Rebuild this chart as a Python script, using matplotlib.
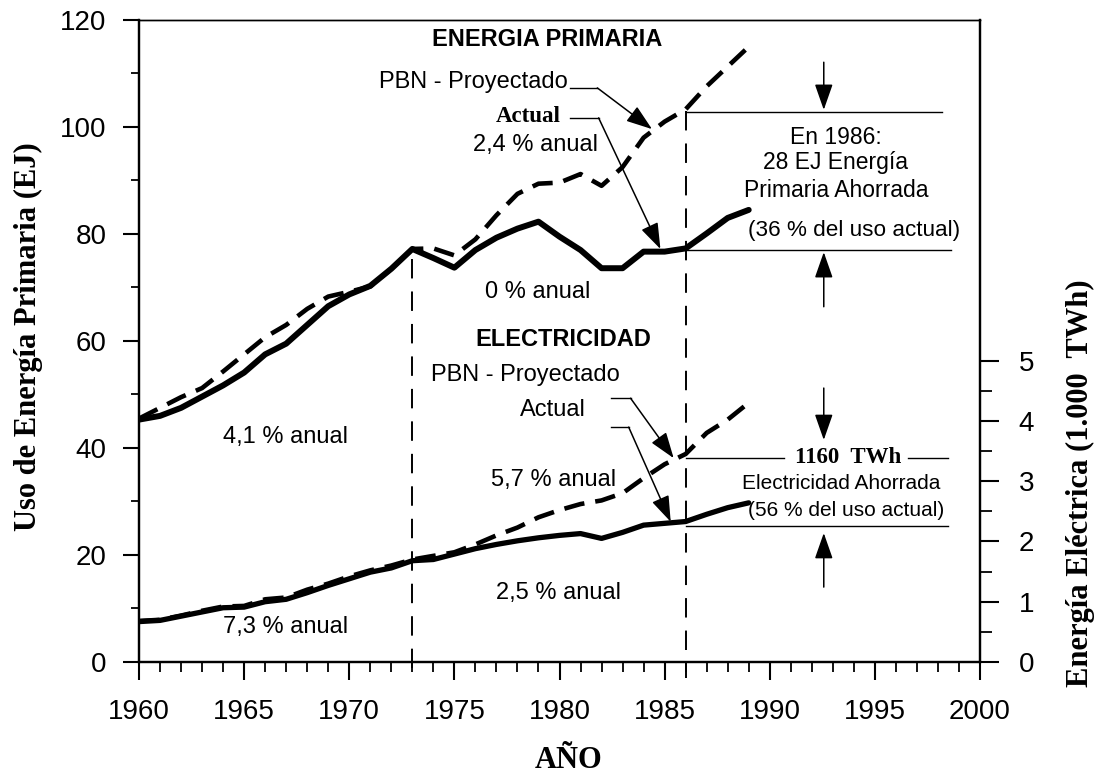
import matplotlib.pyplot as plt
from matplotlib.ticker import MultipleLocator

# datos
years = list(range(1960, 1990))

# energia primaria (EJ)
primaria_actual = [45.3, 46.0, 47.5, 49.6, 51.7, 54.1, 57.5, 59.5, 63.0, 66.5,
                   68.7, 70.3, 73.5, 77.2, 75.5, 73.7, 77.0, 79.3, 81.0, 82.3,
                   79.5, 77.0, 73.6, 73.6, 76.7, 76.7, 77.3, 80.1, 83.0, 84.5]
primaria_pbn = [45.5, 47.5, 49.5, 51.2, 54.3, 57.5, 60.7, 63.0, 66.0, 68.3,
                69.2, 70.2, 73.5, 77.2, 77.3, 76.0, 79.0, 83.5, 87.5, 89.4,
                89.6, 91.2, 89.0, 92.5, 98.0, 101.0, 103.3, 107.6, 111.3, 115.0]

# electricidad (1.000 TWh)
elec_actual = [0.67, 0.69, 0.76, 0.83, 0.90, 0.91, 1.00, 1.04, 1.15, 1.27,
               1.38, 1.49, 1.56, 1.68, 1.70, 1.79, 1.88, 1.95, 2.01, 2.06,
               2.10, 2.13, 2.05, 2.15, 2.27, 2.30, 2.33, 2.45, 2.56, 2.64]
elec_pbn = [0.68, 0.70, 0.77, 0.85, 0.92, 0.93, 1.04, 1.07, 1.20, 1.30,
            1.42, 1.52, 1.60, 1.70, 1.76, 1.82, 1.95, 2.10, 2.23, 2.40,
            2.52, 2.62, 2.68, 2.80, 3.05, 3.28, 3.45, 3.80, 4.02, 4.30]

plt.rcParams['font.family'] = ['Liberation Sans', 'DejaVu Sans']

fig = plt.figure(figsize=(10.99, 7.8), dpi=100)
ax = fig.add_axes([0.1265, 0.1513, 0.7652, 0.8231])
ax2 = ax.twinx()

ax.set_xlim(1960, 2000)
ax.set_ylim(0, 120)
ax2.set_ylim(0, 10.65)

# series
ax.plot(years, primaria_pbn, color='k', lw=3.3, dashes=(4.5, 2.4))
ax.plot(years, primaria_actual, color='k', lw=4.3, solid_capstyle='round')
ax2.plot(years, elec_pbn, color='k', lw=3.3, dashes=(4.5, 2.4))
ax2.plot(years, elec_actual, color='k', lw=3.8, solid_capstyle='round')

# ejes
for a in (ax, ax2):
    for s in a.spines.values():
        s.set_linewidth(1.6)
    a.spines['top'].set_linewidth(1.0)

ax.xaxis.set_major_locator(MultipleLocator(5))
ax.xaxis.set_minor_locator(MultipleLocator(1))
ax.yaxis.set_major_locator(MultipleLocator(20))
ax.yaxis.set_minor_locator(MultipleLocator(10))
ax.tick_params(axis='x', which='major', direction='out', length=13, width=1.5,
               pad=14, labelsize=20)
ax.tick_params(axis='x', which='minor', direction='out', length=7, width=1.3)
ax.tick_params(axis='y', which='major', direction='out', length=11.5, width=1.5,
               pad=12, labelsize=20)
ax.tick_params(axis='y', which='minor', direction='out', length=6, width=1.3)

ax2.set_yticks(range(6))
ax2.set_yticks([0.5, 1.5, 2.5, 3.5, 4.5], minor=True)
ax2.tick_params(axis='y', which='major', direction='out', length=14, width=1.5,
                pad=14, labelsize=20)
ax2.tick_params(axis='y', which='minor', direction='out', length=8.5, width=1.3)

# lineas verticales 1973 y 1986
ax.plot([1973, 1973], [75.3, -1.5], color='k', lw=1.4, dashes=(10, 6.7), clip_on=False)
ax.plot([1986, 1986], [103.0, -3.0], color='k', lw=1.4, dashes=(10, 6.7), clip_on=False)

txt = dict(ha='center', va='center', fontsize=17)
serif_b = dict(family='Liberation Serif', weight='bold')
arrow = dict(arrowstyle='-|>,head_length=0.8,head_width=0.28', color='k',
             lw=1.1, shrinkA=0, shrinkB=0, mutation_scale=20)

# energia primaria
ax.text(1979.4, 116.3, 'ENERGIA PRIMARIA', weight='bold', **txt)
ax.text(1975.9, 108.4, 'PBN - Proyectado', **txt)
ax.plot([1980.5, 1981.8], [107.3, 107.3], color='k', lw=1.0)
ax.annotate('', xy=(1984.4, 99.6), xytext=(1981.8, 107.3), arrowprops=arrow)
ax.text(1978.5, 101.9, 'Actual', ha='center', va='center', fontsize=16.5, **serif_b)
ax.plot([1980.5, 1981.86], [101.7, 101.7], color='k', lw=1.0)
ax.annotate('', xy=(1984.8, 77.2), xytext=(1981.86, 101.7), arrowprops=arrow)
ax.text(1978.86, 96.6, '2,4 % anual', **txt)
ax.text(1978.95, 69.2, '0 % anual', **txt)
ax.text(1966.95, 42.1, '4,1 % anual', **txt)

ax.plot([1986, 1998.2], [102.8, 102.8], color='k', lw=1.0)
ax.plot([1986, 1998.6], [77.0, 77.0], color='k', lw=1.0)
ax.annotate('', xy=(1992.57, 103.2), xytext=(1992.57, 112.1), arrowprops=arrow)
ax.annotate('', xy=(1992.57, 76.6), xytext=(1992.57, 66.4), arrowprops=arrow)
ax.text(1993.14, 98.1, 'En 1986:', fontsize=16.5, ha='center', va='center')
ax.text(1993.14, 93.3, '28 EJ Energía', fontsize=16.5, ha='center', va='center')
ax.text(1993.14, 88.2, 'Primaria Ahorrada', fontsize=16.5, ha='center', va='center')
ax.text(1994.0, 80.7, '(36 % del uso actual)', fontsize=16.2, ha='center', va='center')

# electricidad
ax.text(1980.2, 60.2, 'ELECTRICIDAD', weight='bold', **txt)
ax.text(1978.4, 53.6, 'PBN - Proyectado', **txt)
ax.text(1979.7, 47.1, 'Actual', **txt)
ax.plot([1982.43, 1983.38], [49.3, 49.3], color='k', lw=1.0)
ax.annotate('', xy=(1985.43, 38.1), xytext=(1983.38, 49.3), arrowprops=arrow)
ax.plot([1982.43, 1983.29], [43.9, 43.9], color='k', lw=1.0)
ax.annotate('', xy=(1985.29, 26.2), xytext=(1983.29, 43.9), arrowprops=arrow)
ax.text(1979.7, 34.0, '5,7 % anual', **txt)
ax.text(1979.95, 12.9, '2,5 % anual', **txt)
ax.text(1966.95, 6.5, '7,3 % anual', **txt)

ax.plot([1986, 1990.67], [38.1, 38.1], color='k', lw=1.0)
ax.plot([1996.57, 1998.48], [38.1, 38.1], color='k', lw=1.0)
ax.text(1993.71, 38.3, '1160  TWh', ha='center', va='center', fontsize=16.5, **serif_b)
ax.plot([1986, 1998.48], [25.4, 25.4], color='k', lw=1.0)
ax.annotate('', xy=(1992.57, 41.5), xytext=(1992.57, 51.2), arrowprops=arrow)
ax.annotate('', xy=(1992.57, 24.1), xytext=(1992.57, 14.0), arrowprops=arrow)
ax.text(1993.38, 33.3, 'Electricidad Ahorrada', ha='center', va='center', fontsize=15)
ax.text(1993.62, 28.4, '(56 % del uso actual)', ha='center', va='center', fontsize=15)

# titulos de ejes
fig.text(0.0255, 1 - 337 / 780, 'Uso de Energía Primaria (EJ)', rotation=90,
         ha='center', va='center', fontsize=22, **serif_b)
fig.text(0.9827, 1 - 483 / 780, 'Energía Eléctrica (1.000  TWh)', rotation=90,
         ha='center', va='center', fontsize=22, **serif_b)
fig.text(0.517, 0.0256, 'AÑO', ha='center', va='center', fontsize=22, **serif_b)

fig.savefig('out.png', dpi=100)
